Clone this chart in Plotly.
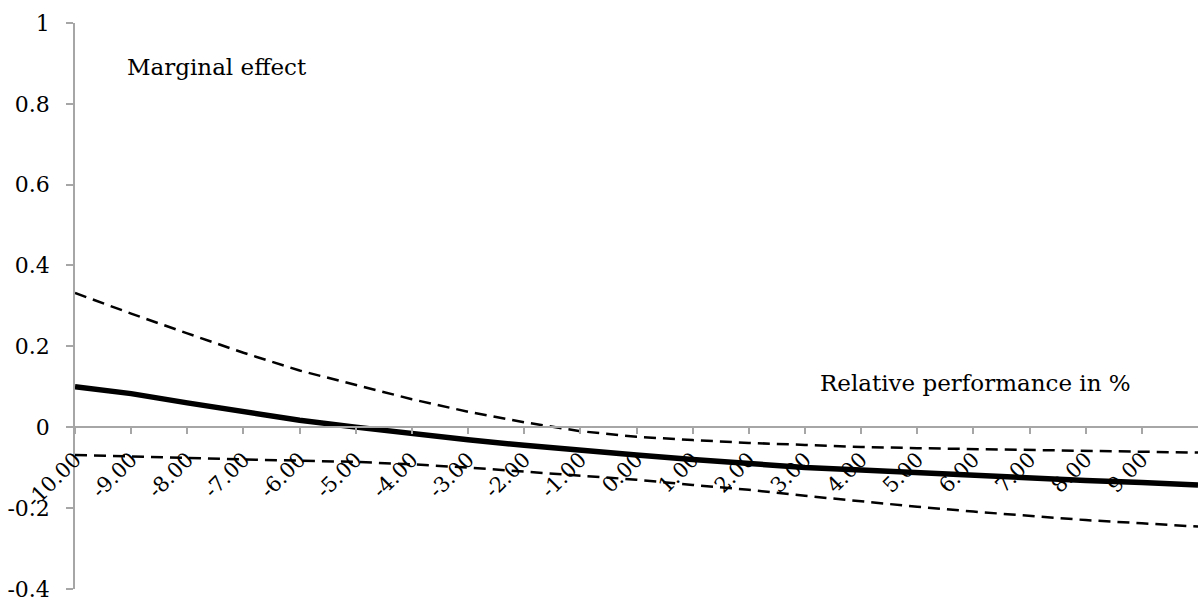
import plotly.graph_objects as go

# Relative performance (%) on the horizontal axis
rel_perf = [-10, -9, -8, -7, -6, -5, -4, -3, -2, -1, 0, 1, 2, 3, 4, 5, 6, 7, 8, 9, 10]
tick_vals = [-10, -9, -8, -7, -6, -5, -4, -3, -2, -1, 0, 1, 2, 3, 4, 5, 6, 7, 8, 9]
tick_text = ["%.2f" % v for v in tick_vals]

# Marginal effect and its confidence band
marginal = [0.100, 0.083, 0.060, 0.038, 0.017, 0.000, -0.017, -0.031, -0.045, -0.058,
            -0.069, -0.080, -0.091, -0.100, -0.106, -0.113, -0.120, -0.126, -0.132, -0.137, -0.143]
upper = [0.332, 0.281, 0.232, 0.184, 0.140, 0.104, 0.069, 0.038, 0.012, -0.010,
         -0.024, -0.032, -0.039, -0.044, -0.049, -0.052, -0.054, -0.057, -0.059, -0.061, -0.063]
lower = [-0.069, -0.072, -0.076, -0.080, -0.083, -0.086, -0.092, -0.100, -0.110, -0.120,
         -0.130, -0.143, -0.155, -0.170, -0.184, -0.197, -0.209, -0.220, -0.230, -0.238, -0.246]

y_ticks = [1, 0.8, 0.6, 0.4, 0.2, 0, -0.2, -0.4]
y_text = ["1", "0.8", "0.6", "0.4", "0.2", "0", "-0.2", "-0.4"]

SERIF = "DejaVu Serif"
AXIS_GREY = "#a6a6a6"
y_min, y_max = -0.4005, 1.0

fig = go.Figure()
for vals in (upper, lower):
    fig.add_trace(go.Scatter(x=rel_perf, y=vals, mode="lines",
                             line=dict(color="black", width=2.5, dash="12px,7px"),
                             hoverinfo="skip"))
fig.add_trace(go.Scatter(x=rel_perf, y=marginal, mode="lines",
                         line=dict(color="black", width=5.5)))

fig.update_layout(
    width=1198, height=603,
    margin=dict(l=75, r=0, t=23, b=14),
    paper_bgcolor="white", plot_bgcolor="white",
    showlegend=False,
    font=dict(family=SERIF, color="black", size=22),
    xaxis=dict(
        range=[-10, 10], tickmode="array", tickvals=tick_vals, ticktext=tick_text,
        tickangle=-45, ticks="outside", ticklen=6, tickcolor=AXIS_GREY, tickwidth=1.5,
        showline=True, linecolor=AXIS_GREY, linewidth=1.5, showgrid=False, zeroline=False,
        anchor="free", position=(0 - y_min) / (y_max - y_min),
        tickfont=dict(family=SERIF, size=21, color="black"), ticklabelstandoff=5,
    ),
    yaxis=dict(
        range=[y_min, y_max], tickmode="array", tickvals=y_ticks, ticktext=y_text,
        ticks="outside", ticklen=7, tickcolor=AXIS_GREY, tickwidth=1.5,
        showline=True, linecolor=AXIS_GREY, linewidth=1.5, showgrid=False, zeroline=False,
        tickfont=dict(family=SERIF, size=22, color="black"), ticklabelstandoff=12,
        ticklabeloverflow="allow",
    ),
    annotations=[
        dict(x=-9.11, y=0.89, xref="x", yref="y", text="Marginal effect", showarrow=False,
             xanchor="left", yanchor="middle", font=dict(family=SERIF, size=23, color="black")),
        dict(x=3.23, y=0.11, xref="x", yref="y", text="Relative performance in %", showarrow=False,
             xanchor="left", yanchor="middle", font=dict(family=SERIF, size=23, color="black")),
    ],
)

fig.write_html("out.html")
